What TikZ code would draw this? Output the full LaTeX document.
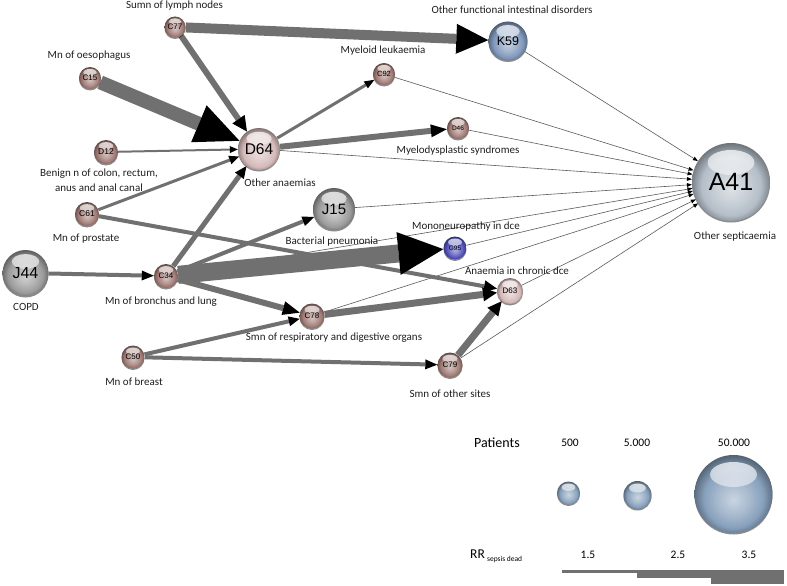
\documentclass[tikz,border=0pt]{standalone}
\usepackage{fontspec}
\setmainfont{Carlito}
\newfontfamily\arialf{Liberation Sans}
\usetikzlibrary{arrows.meta,shadows,fadings,backgrounds}
\definecolor{brownc}{RGB}{160,122,116}
\definecolor{pinkc}{RGB}{214,186,186}
\definecolor{grayc}{RGB}{155,155,155}
\definecolor{k59c}{RGB}{128,152,188}
\definecolor{a41c}{RGB}{180,190,200}
\definecolor{g95c}{RGB}{80,80,185}
\definecolor{legc}{RGB}{135,160,188}
\definecolor{edgec}{RGB}{112,112,112}
\definecolor{thinc}{RGB}{90,90,90}
\colorlet{sphc}{gray}
\pgfdeclareradialshading[sphc]{glass}{\pgfpoint{0bp}{-4bp}}{%
  color(0bp)=(sphc!45!white); color(10bp)=(sphc!72!white);
  color(19bp)=(sphc); color(24bp)=(sphc!75!black);
  color(29bp)=(sphc!50!black); color(50bp)=(sphc!50!black)}
\tikzset{
  sph/.style n args={3}{circle, minimum size=#1, inner sep=0pt,
    /utils/exec={\colorlet{sphc}{#2}}, shading=glass,
    font=\arialf\fontsize{#3}{#3}\selectfont, text=black,
    drop shadow={shadow xshift=0pt, shadow yshift=-1.5pt, opacity=0.45, fill=black},
    path picture={\fill[white, fill opacity=0.8, path fading=south]
      ([yshift={-0.25*#1}]path picture bounding box.north) ellipse [x radius={0.3*#1}, y radius={0.16*#1}];}},
  lab/.style={font=\fontsize{11}{13}\selectfont, text=black!88, inner sep=0pt},
  ed/.style={draw=edgec, line width=#1},
  thin/.style={draw=thinc, line width=0.6pt, -{Triangle[length=5pt,width=4pt,color=black,fill=black,line width=0pt]}},
  tip/.style 2 args={-{Triangle[length=#1,width=#2,color=black,fill=black,line width=0pt]}}
}
\begin{document}
\begin{tikzpicture}[x=1pt,y=-1pt]
\useasboundingbox (0,0) rectangle (787,586);
% nodes
\node[sph={21pt}{brownc}{8}] (C77) at (175,27) {C77};
\node[sph={22pt}{brownc}{8}] (C15) at (90,78) {C15};
\node[sph={24pt}{brownc}{8.5}] (D12) at (106,152) {D12};
\node[sph={24pt}{brownc}{8.5}] (C61) at (87,214) {C61};
\node[sph={42pt}{pinkc}{15.5}] (D64) at (259,149) {D64};
\node[sph={22pt}{brownc}{7.5}] (C92) at (384,74) {C92};
\node[sph={42pt}{grayc}{15}] (J15) at (334,209) {J15};
\node[sph={46pt}{grayc}{16}] (J44) at (25.5,273) {J44};
\node[sph={24pt}{brownc}{8}] (C34) at (166,276) {C34};
\node[sph={39pt}{k59c}{12.5}] (K59) at (508,41) {K59};
\node[sph={22pt}{brownc}{6.5}] (D46) at (458,128) {D46};
\node[sph={78pt}{a41c}{25}] (A41) at (731,182) {A41};
\node[sph={23pt}{g95c}{6.5}] (G95) at (455,248) {G95};
\node[sph={26pt}{pinkc}{8}] (D63) at (510,291) {D63};
\node[sph={25pt}{brownc}{8}] (C78) at (312,316) {C78};
\node[sph={23pt}{brownc}{8}] (C50) at (133,357) {C50};
\node[sph={25pt}{brownc}{8}] (C79) at (450,365) {C79};
% labels
\node[lab] (l77) at (174.5,6) {Sumn of lymph nodes};
\node[lab] (l15) at (89,56) {Mn of oesophagus};
\node[lab] (l92) at (383,51) {Myeloid leukaemia};
\node[lab] (l12a) at (99,174) {Benign n of colon, rectum,};
\node[lab] (l12b) at (99,188) {anus and anal canal};
\node[lab] (l64) at (280,183) {Other anaemias};
\node[lab] (l61) at (86,239) {Mn of prostate};
\node[lab] (l44) at (26,307) {COPD};
\node[lab] (l34) at (161,302) {Mn of bronchus and lung};
\node[lab] (l15b) at (332,242) {Bacterial pneumonia};
\node[lab] (l78) at (334,338) {Smn of respiratory and digestive organs};
\node[lab] (l50) at (134,382) {Mn of breast};
\node[lab] (l59) at (512,10) {Other functional intestinal disorders};
\node[lab] (l46) at (458,151) {Myelodysplastic syndromes};
\node[lab] (l41) at (735,237) {Other septicaemia};
\node[lab] (l95) at (466,227) {Mononeuropathy in dce};
\node[lab] (l63) at (517,271) {Anaemia in chronic dce};
\node[lab] (l79) at (450,394) {Smn of other sites};
% legend
\node[font=\fontsize{14}{16}\selectfont] (pat) at (497,443) {Patients};
\node[font=\fontsize{11.5}{13}\selectfont] (p1) at (570,443) {500};
\node[font=\fontsize{11.5}{13}\selectfont] (p2) at (637,443) {5.000};
\node[font=\fontsize{11.5}{13}\selectfont] (p3) at (734,443) {50.000};
\node[sph={23pt}{legc}{8}] (b1) at (568.5,493) {};
\node[sph={28pt}{legc}{8}] (b2) at (637.5,495) {};
\node[sph={78pt}{legc}{8}] (b3) at (733.5,494) {};
\node[font=\fontsize{13.5}{15}\selectfont, anchor=west, inner sep=0pt] (rr) at (470,556) {RR\,\raisebox{-3pt}{\fontsize{7.5}{8}\selectfont sepsis dead}};
\node[font=\fontsize{11.5}{13}\selectfont] (r1) at (588,555) {1.5};
\node[font=\fontsize{11.5}{13}\selectfont] (r2) at (678,555) {2.5};
\node[font=\fontsize{11.5}{13}\selectfont] (r3) at (749,555) {3.5};
\fill[edgec] (562,570) rectangle (637,572.5);
\fill[edgec] (637,570) rectangle (711,577.5);
\fill[edgec] (711,570) rectangle (784,584);
% edges
\begin{pgfonlayer}{background}
\foreach \s in {K59,C92,D46,D64,J15,C34,G95,C78,D63,C79}
  \draw[thin] (\s) -- (A41);
\draw[ed=4pt, tip={13pt}{12pt}] (C61) -- (D63);
\draw[ed=10pt, tip={32pt}{30pt}] (C77) -- (K59);
\draw[ed=6pt, tip={15pt}{15pt}] (C77) -- (D64);
\draw[ed=14pt, tip={44pt}{40pt}] (C15) -- (D64);
\draw[ed=2pt, tip={8pt}{7pt}] (D12) -- (D64);
\draw[ed=3pt, tip={10pt}{9pt}] (C61) -- (D64);
\draw[ed=5pt, tip={12pt}{11pt}] (C34) -- (D64);
\draw[ed=4pt, tip={12pt}{10pt}] (C34) -- (J15);
\draw[ed=18pt, tip={45pt}{43pt}] (C34) -- (G95);
\draw[ed=6pt, tip={17pt}{14pt}] (C34) -- (C78);
\draw[ed=4pt, tip={12pt}{10pt}] (J44) -- (C34);
\draw[ed=4pt, tip={11pt}{10pt}] (C50) -- (C78);
\draw[ed=4pt, tip={12pt}{10pt}] (C50) -- (C79);
\draw[ed=7pt, tip={14pt}{14pt}] (C78) -- (D63);
\draw[ed=7pt, tip={14pt}{14pt}] (C79) -- (D63);
\draw[ed=3pt, tip={10pt}{8pt}] (D64) -- (C92);
\draw[ed=6pt, tip={16pt}{13pt}] (D64) -- (D46);
\end{pgfonlayer}
\end{tikzpicture}
\end{document}
